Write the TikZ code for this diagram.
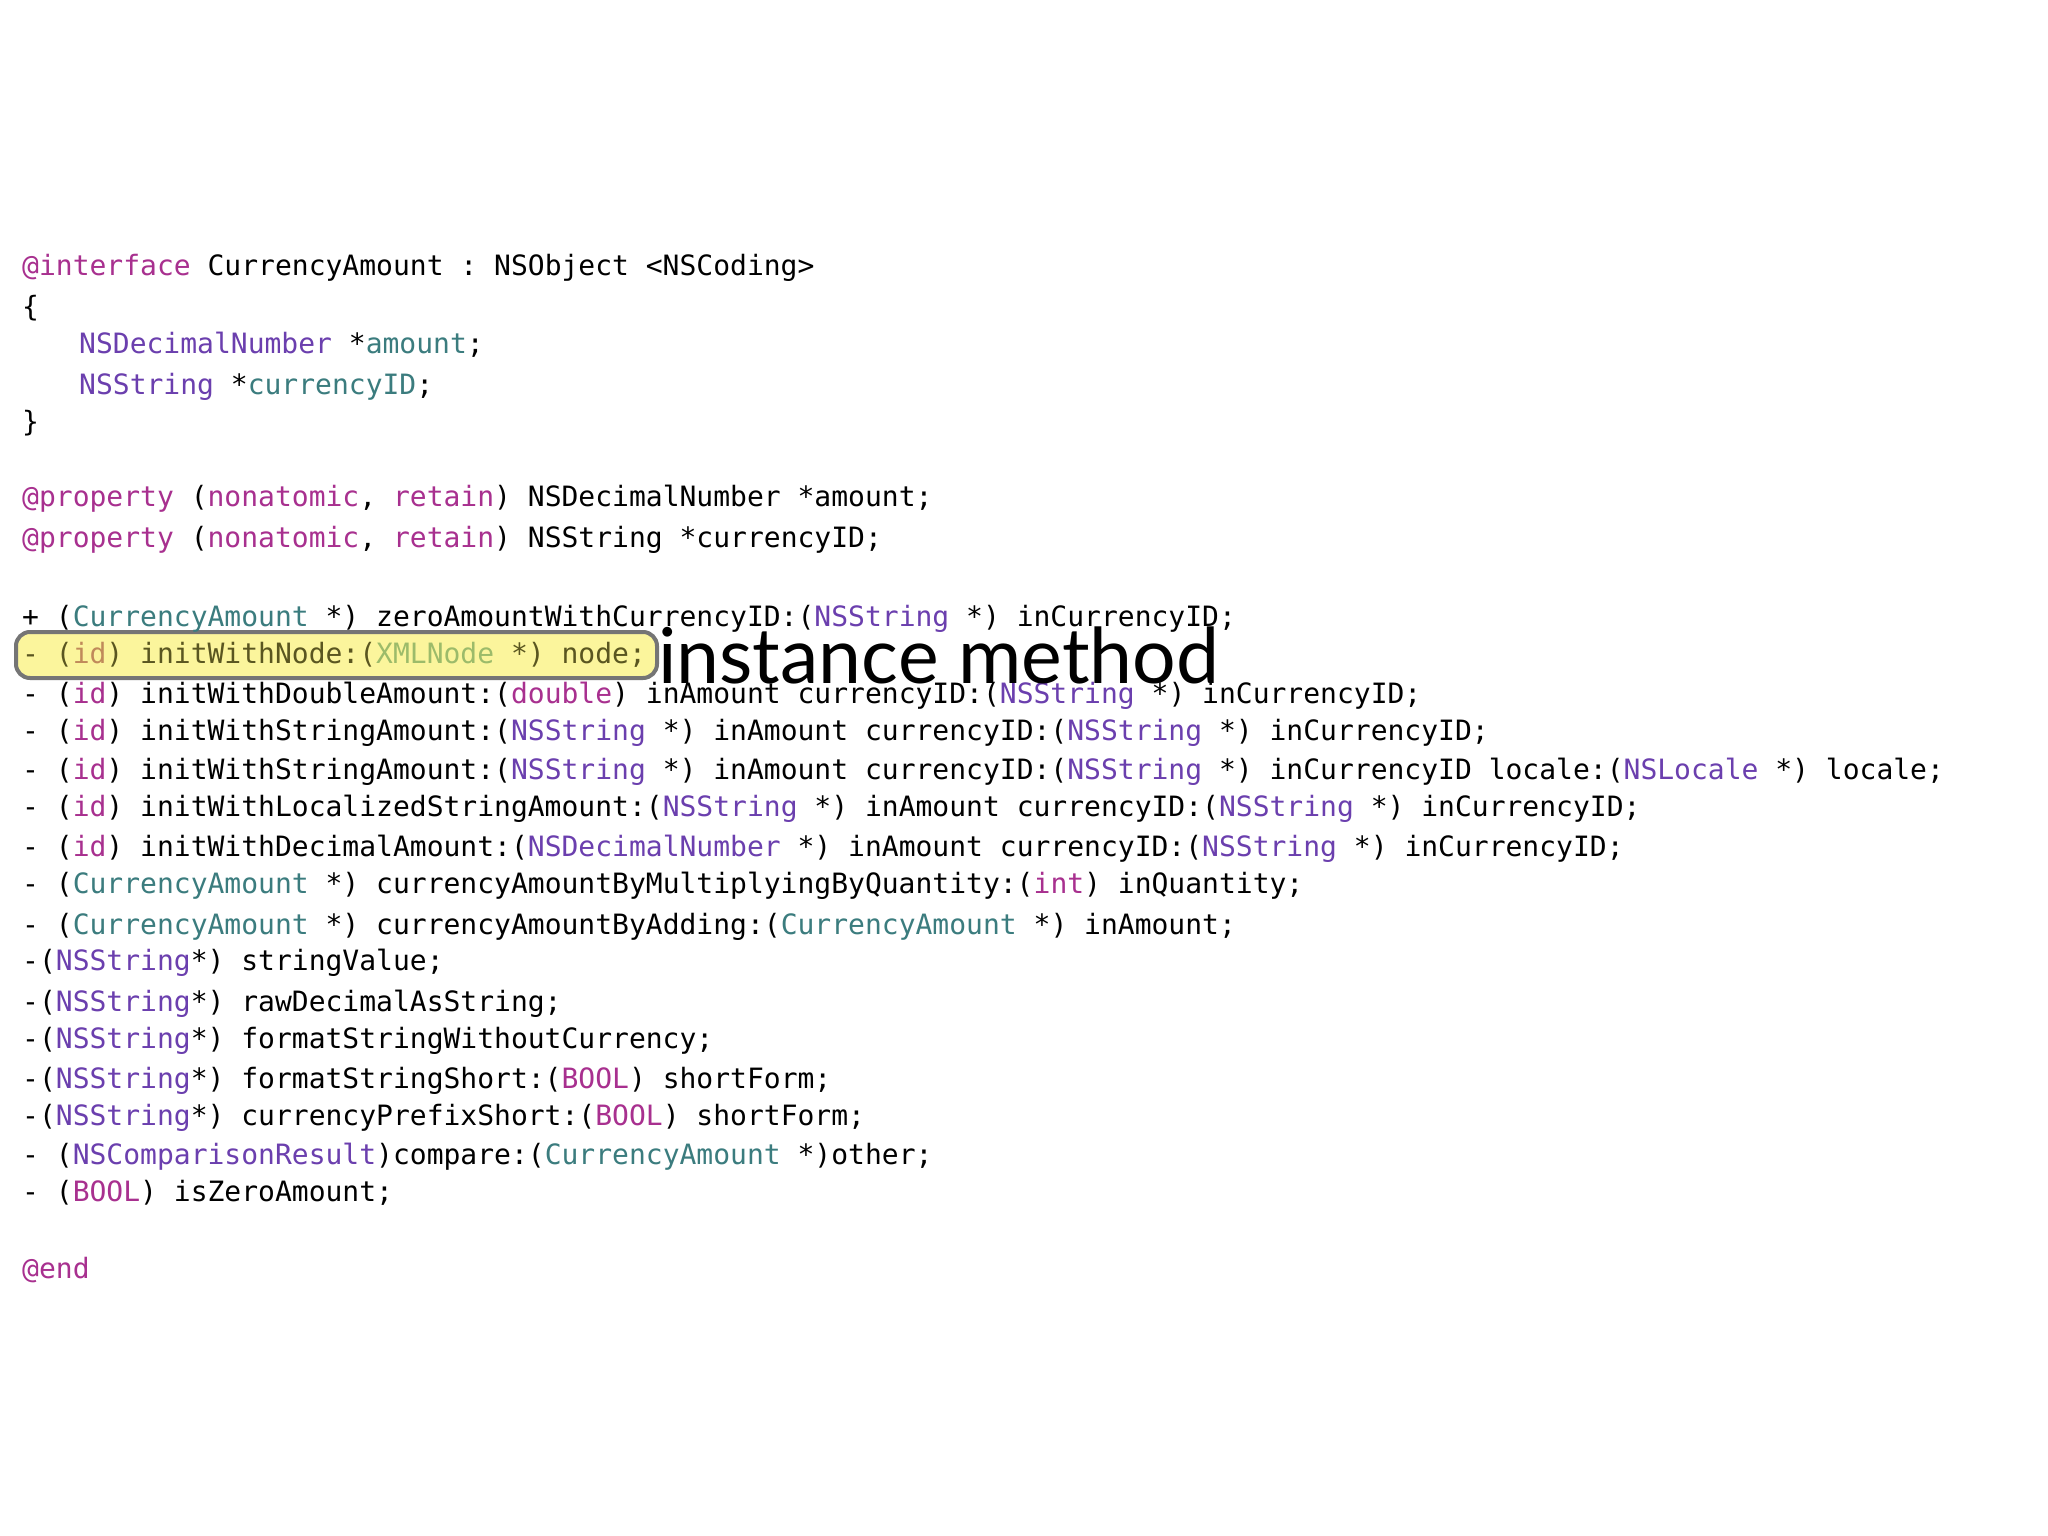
\documentclass[tikz,border=0pt]{standalone}
\usepackage{fontspec}
\setmonofont{DejaVu Sans Mono}
\setsansfont{Lato}
\definecolor{kwc}{HTML}{A8308F}
\definecolor{clc}{HTML}{6B3FAE}
\definecolor{cac}{HTML}{3B7C7E}
\definecolor{hlfill}{HTML}{FBF59C}
\definecolor{hlk}{HTML}{C08A5A}
\definecolor{hlc}{HTML}{9CBB6A}
\definecolor{hlt}{HTML}{5A5620}
\newcommand{\kw}[1]{\textcolor{kwc}{#1}}
\newcommand{\cl}[1]{\textcolor{clc}{#1}}
\newcommand{\ca}[1]{\textcolor{cac}{#1}}
\begin{document}
\begin{tikzpicture}[x=1pt,y=1pt,
  code/.style={anchor=west,inner sep=0pt,font=\ttfamily\fontsize{28}{30}\selectfont,text depth=0pt}]
\useasboundingbox (0,0) rectangle (2048,-1536);
\fill[white] (0,0) rectangle (2048,-1536);
\begin{scope}[yshift=8pt]
\draw[line width=4pt,draw=gray!80!black!90,fill=hlfill,rounded corners=14pt] (16,-640) rectangle (657,-686);
\node[code] (l1) at (22,-273) {\kw{@interface} CurrencyAmount : NSObject <NSCoding>};
\node[code] (l2) at (22,-314) {\{};
\node[code] (l3) at (79,-351) {\cl{NSDecimalNumber} *\ca{amount};};
\node[code] (l4) at (79,-392) {\cl{NSString} *\ca{currencyID};};
\node[code] (l5) at (22,-429) {\}};
\node[code] (l6) at (22,-504) {\kw{@property} (\kw{nonatomic}, \kw{retain}) NSDecimalNumber *amount;};
\node[code] (l7) at (22,-545) {\kw{@property} (\kw{nonatomic}, \kw{retain}) NSString *currencyID;};
\node[code] (l8) at (22,-624) {+ (\ca{CurrencyAmount} *) zeroAmountWithCurrencyID:(\cl{NSString} *) inCurrencyID;};
\node[code] (l9) at (22,-661) {\textcolor{hlt}{- (\textcolor{hlk}{id}) initWithNode:(\textcolor{hlc}{XMLNode} *) node;}};
\node[code] (l10) at (22,-701) {- (\kw{id}) initWithDoubleAmount:(\kw{double}) inAmount currencyID:(\cl{NSString} *) inCurrencyID;};
\node[code] (l11) at (22,-738) {- (\kw{id}) initWithStringAmount:(\cl{NSString} *) inAmount currencyID:(\cl{NSString} *) inCurrencyID;};
\node[code] (l12) at (22,-777) {- (\kw{id}) initWithStringAmount:(\cl{NSString} *) inAmount currencyID:(\cl{NSString} *) inCurrencyID locale:(\cl{NSLocale} *) locale;};
\node[code] (l13) at (22,-814) {- (\kw{id}) initWithLocalizedStringAmount:(\cl{NSString} *) inAmount currencyID:(\cl{NSString} *) inCurrencyID;};
\node[code] (l14) at (22,-854) {- (\kw{id}) initWithDecimalAmount:(\cl{NSDecimalNumber} *) inAmount currencyID:(\cl{NSString} *) inCurrencyID;};
\node[code] (l15) at (22,-891) {- (\ca{CurrencyAmount} *) currencyAmountByMultiplyingByQuantity:(\kw{int}) inQuantity;};
\node[code] (l16) at (22,-932) {- (\ca{CurrencyAmount} *) currencyAmountByAdding:(\ca{CurrencyAmount} *) inAmount;};
\node[code] (l17) at (22,-968) {-(\cl{NSString}*) stringValue;};
\node[code] (l18) at (22,-1009) {-(\cl{NSString}*) rawDecimalAsString;};
\node[code] (l19) at (22,-1046) {-(\cl{NSString}*) formatStringWithoutCurrency;};
\node[code] (l20) at (22,-1086) {-(\cl{NSString}*) formatStringShort:(\kw{BOOL}) shortForm;};
\node[code] (l21) at (22,-1123) {-(\cl{NSString}*) currencyPrefixShort:(\kw{BOOL}) shortForm;};
\node[code] (l22) at (22,-1162) {- (\cl{NSComparisonResult})compare:(\ca{CurrencyAmount} *)other;};
\node[code] (l23) at (22,-1199) {- (\kw{BOOL}) isZeroAmount;};
\node[code] (l24) at (22,-1276) {\kw{@end}};
\node[anchor=west,inner sep=0pt,font=\sffamily\fontsize{77}{77}\selectfont] (lab) at (658,-663) {instance method};
\end{scope}
\end{tikzpicture}
\end{document}
